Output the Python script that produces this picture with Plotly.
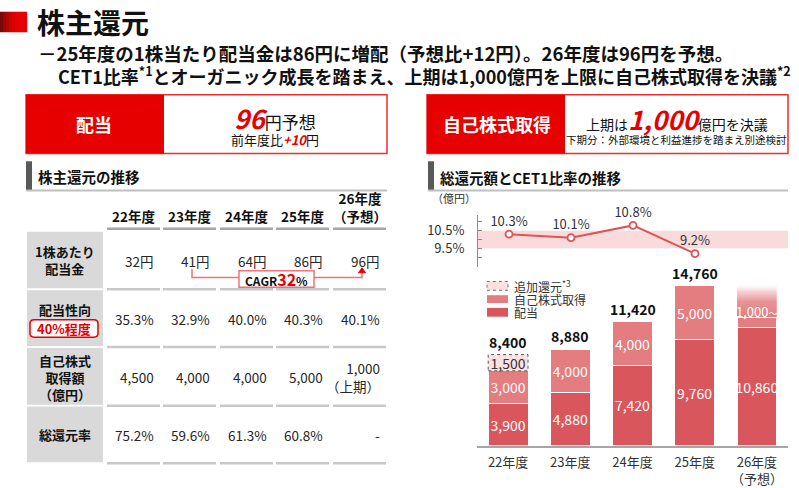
import plotly.graph_objects as go

W, H = 799, 488
def X(px): return px / W
def Y(py): return 1 - py / H

FONT = "Noto Sans CJK JP, Noto Sans, sans-serif"
RED = "#e60000"
C_DIV = "#d9575c"
C_BUY = "#e37d80"
C_LINE = "#e05358"
TXT = "#262626"

# ---------------- data ----------------
years = ["22年度", "23年度", "24年度", "25年度", "26年度<br>（予想）"]
dividend = [3900, 4880, 7420, 9760, 10860]
buyback = [3000, 4000, 4000, 5000, 1000]
additional = [1500, 0, 0, 0, 0]
cet1_x = [0, 1, 2, 3]
cet1 = [10.3, 10.1, 10.8, 9.2]
cet1_band = [9.5, 10.5]
cet1_ticks = [9.5, 10.5]
cet1_ticktext = ["9.5%", "10.5%"]
cet1_minor = [9.0, 10.0, 11.0]

tbl_headers = ["22年度", "23年度", "24年度", "25年度", "26年度<br>（予想）"]
tbl_row_labels = ["1株あたり<br>配当金", "配当性向", "自己株式<br>取得額<br>（億円）", "総還元率"]
tbl_dps = ["32円", "41円", "64円", "86円", "96円"]
tbl_payout = ["35.3%", "32.9%", "40.0%", "40.3%", "40.1%"]
tbl_buyback = ["4,500", "4,000", "4,000", "5,000", "1,000<br>（上期）"]
tbl_total_ratio = ["75.2%", "59.6%", "61.3%", "60.8%", "-"]
cagr_value = "32"
payout_target = "40%程度"
buyback_26_suffix = "～"

# ---------------- layout constants ----------------
BAR_W = 0.64
FADE_TOP = 15000
xs = list(range(len(years)))
i26 = len(years) - 1

fig = go.Figure()

# bars
fig.add_bar(x=xs, y=dividend, width=BAR_W, marker=dict(color=C_DIV, line=dict(color="white", width=1)),
            text=[f"{v:,}" for v in dividend], textposition="inside", insidetextanchor="middle", textangle=0,
            textfont=dict(color="white", size=14, family=FONT), constraintext="none",
            xaxis="x", yaxis="y", showlegend=False, hoverinfo="skip")
fig.add_bar(x=xs, y=buyback, width=BAR_W, marker=dict(color=C_BUY, line=dict(color="white", width=1)),
            text=[f"{v:,}" for v in buyback],
            textposition=["inside"] * (len(xs) - 1) + ["none"], insidetextanchor="middle", textangle=0,
            textfont=dict(color="white", size=14, family=FONT), constraintext="none",
            xaxis="x", yaxis="y", showlegend=False, hoverinfo="skip")
add_x = [i for i, v in enumerate(additional) if v]
add_y = [v for v in additional if v]
fig.add_bar(x=add_x, y=add_y, base=[dividend[i] + buyback[i] for i in add_x], width=BAR_W,
            marker=dict(color="#fbe1e1", line=dict(width=0),
                        pattern=dict(shape="x", fgcolor="#f2a9ab", bgcolor="#fde9e9", size=4, solidity=0.3)),
            text=[f"{v:,}" for v in add_y], textposition="inside", insidetextanchor="middle", textangle=0,
            textfont=dict(color="#333333", size=14, family=FONT), constraintext="none",
            xaxis="x", yaxis="y", showlegend=False, hoverinfo="skip")

# fade above the 26 buyback segment
f0 = dividend[i26] + buyback[i26]
fx0, fx1 = i26 - BAR_W / 2, i26 + BAR_W / 2
fig.add_scatter(x=[fx0, fx1, fx1, fx0, fx0], y=[f0, f0, FADE_TOP, FADE_TOP, f0], mode="lines",
                line=dict(width=0), fill="toself",
                fillgradient=dict(type="vertical",
                                  colorscale=[[0, "rgba(227,125,128,1)"], [0.45, "rgba(229,135,138,0.9)"],
                                              [0.75, "rgba(238,170,172,0.55)"], [1, "rgba(255,255,255,0)"]]),
                xaxis="x", yaxis="y", showlegend=False, hoverinfo="skip")

# CET1 line
fig.add_scatter(x=cet1_x, y=cet1, mode="lines+markers+text",
                line=dict(color=C_LINE, width=2),
                marker=dict(symbol="circle", size=7, color="white", line=dict(color=C_LINE, width=1.8)),
                text=[f"{v:.1f}%" for v in cet1], textposition="top center",
                textfont=dict(size=13, color="#333333", family=FONT), cliponaxis=False,
                xaxis="x2", yaxis="y2", showlegend=False, hoverinfo="skip")

shapes = []
ann = []

def rect(x0, y0, x1, y1, fill=None, line_color=None, lw=0, dash=None, layer="below"):
    d = dict(type="rect", xref="paper", yref="paper", x0=X(x0), x1=X(x1), y0=Y(y1), y1=Y(y0),
             fillcolor=fill if fill else "rgba(0,0,0,0)", layer=layer,
             line=dict(color=line_color if line_color else "rgba(0,0,0,0)", width=lw))
    if dash:
        d["line"]["dash"] = dash
    shapes.append(d)

def hline(x0, x1, y, color, w):
    shapes.append(dict(type="line", xref="paper", yref="paper", x0=X(x0), x1=X(x1), y0=Y(y), y1=Y(y),
                       line=dict(color=color, width=w)))

def text(x, y, s, size=13, color=TXT, xanchor="center", yanchor="middle", align="center", bold=False):
    if bold:
        s = f"<b>{s}</b>"
    ann.append(dict(xref="paper", yref="paper", x=X(x), y=Y(y), text=s, showarrow=False,
                    xanchor=xanchor, yanchor=yanchor, align=align, borderpad=0,
                    font=dict(size=size, color=color, family=FONT)))

# ---------------- title ----------------
grad = ["#7a0a0a", "#980808", "#b40505", "#cc0303", "#dc0101", "#e40000", "#e60000", "#e60000", "#e60000"]
for k, c in enumerate(grad):
    rect(k * 3, 12, k * 3 + 3.2, 33, fill=c)
text(36, 23, "株主還元", size=28, color="#111111", xanchor="left", bold=True)
text(37, 54, "－25年度の1株当たり配当金は86円に増配（予想比+12円）。26年度は96円を予想。",
     size=18.5, color="#111111", xanchor="left", bold=True)
text(57, 77, "CET1比率<sup>*1</sup>とオーガニック成長を踏まえ、上期は1,000億円を上限に自己株式取得を決議<sup>*2</sup>",
     size=18, color="#111111", xanchor="left", bold=True)

# ---------------- highlight boxes ----------------
rect(26, 97, 387, 157, fill="white", line_color="#e83030", lw=1.5)
rect(26, 97, 164, 157, fill=RED)
text(94, 127, "配当", size=18, color="white", bold=True)
text(275, 120, f"<span style='font-size:26px;color:{RED}'><b><i>96</i></b></span>円予想", size=17, color="#111111")
text(275, 143, f"前年度比<span style='color:{RED}'><b><i>+10</i></b></span>円", size=13, color="#111111")

rect(427, 97, 788, 157, fill="white", line_color="#e83030", lw=1.5)
rect(427, 97, 565, 157, fill=RED)
text(497, 127, "自己株式取得", size=18, color="white", bold=True)
text(677, 121, f"上期は<span style='font-size:26px;color:{RED}'><b><i>1,000</i></b></span>億円を決議", size=14, color="#111111")
text(676, 143, "下期分：外部環境と利益進捗を踏まえ別途検討", size=10.5, color="#111111")

# ---------------- section headers ----------------
rect(26, 165, 32, 195, fill="#595959")
hline(26, 387, 195, "#bfbfbf", 2)
text(37, 181, "株主還元の推移", size=14.5, color="#111111", xanchor="left", bold=True)

rect(428, 165, 434, 195, fill="#595959")
hline(428, 788, 195, "#bfbfbf", 2)
text(439, 182, "総還元額とCET1比率の推移", size=14.5, color="#111111", xanchor="left", bold=True)

# ---------------- table ----------------
col_left = [107, 163, 220, 276, 333]
col_w = 53
row_top = [237, 297, 356, 416]
row_bot = [295, 354, 414, 473]
row_val_y = [267, 326, 386, 445]

for i, h in enumerate(tbl_headers):
    cx = col_left[i] + col_w / 2
    text(cx, 232, h, size=13.5, color="#111111", yanchor="bottom", bold=True)
    hline(col_left[i], col_left[i] + col_w, 234, "#a6a6a6", 2.5)
    for r in range(4):
        hline(col_left[i], col_left[i] + col_w, row_bot[r] + 1, "#c8c8c8", 2.5)

for r in range(4):
    rect(27, row_top[r], 103, row_bot[r], fill="#d9d9d9")

text(65, 266, tbl_row_labels[0], size=13, color="#111111", bold=True)
text(65, 317, tbl_row_labels[1], size=13, color="#111111", bold=True)
text(65, 386, tbl_row_labels[2], size=13, color="#111111", bold=True)
text(65, 445, tbl_row_labels[3], size=13, color="#111111", bold=True)

# 40% target box (rounded)
bx0, by0, bx1, by1, rr = X(30), Y(327), X(98), Y(345), 4
rx, ry = rr / W, rr / H
shapes.append(dict(type="path", xref="paper", yref="paper", fillcolor="white",
                   line=dict(color=RED, width=1.5),
                   path=(f"M {bx0+rx},{by0} L {bx1-rx},{by0} Q {bx1},{by0} {bx1},{by0-ry} "
                         f"L {bx1},{by1+ry} Q {bx1},{by1} {bx1-rx},{by1} L {bx0+rx},{by1} "
                         f"Q {bx0},{by1} {bx0},{by1+ry} L {bx0},{by0-ry} Q {bx0},{by0} {bx0+rx},{by0} Z")))
text(64, 336, payout_target, size=13, color=RED, bold=True)

for i in range(5):
    rx_ = col_left[i] + col_w - 5
    text(rx_, row_val_y[0], tbl_dps[i], size=13.5, color="#262626", xanchor="right")
    text(rx_, row_val_y[1], tbl_payout[i], size=13.5, color="#262626", xanchor="right")
    text(rx_, row_val_y[2], tbl_buyback[i], size=13.5, color="#262626", xanchor="right", align="right")
    text(rx_, row_val_y[3], tbl_total_ratio[i], size=13.5, color="#262626", xanchor="right")

# CAGR connector
CC = "#f07378"
shapes.append(dict(type="path", xref="paper", yref="paper", line=dict(color=CC, width=1.5),
                   path=f"M {X(192)},{Y(275)} L {X(192)},{Y(284)} L {X(362)},{Y(284)} L {X(362)},{Y(279)}"))
shapes.append(dict(type="path", xref="paper", yref="paper", fillcolor=RED, line=dict(color=RED, width=1),
                   path=f"M {X(358.5)},{Y(279)} L {X(365.5)},{Y(279)} L {X(362)},{Y(274)} Z"))
rect(239, 277, 314, 294, fill="white", line_color=CC, lw=1.5, layer="above")
ann.append(dict(xref="paper", yref="paper", x=X(276), y=Y(285.5), showarrow=False, borderpad=0,
                text=f"<b>CAGR<span style='color:{RED};font-size:16px'>{cagr_value}</span>%</b>",
                font=dict(size=12, color="#111111", family=FONT)))

# ---------------- chart extras ----------------
text(431, 203, "（億円）", size=11, color="#333333", xanchor="left")

# band
shapes.append(dict(type="rect", xref="x2 domain", yref="y2", x0=0, x1=1, y0=cet1_band[0], y1=cet1_band[1],
                   fillcolor="#fadbdc", line=dict(width=0), layer="below"))

# dashed border for additional return
for i in add_x:
    a0 = dividend[i] + buyback[i]
    shapes.append(dict(type="rect", xref="x", yref="y", x0=i - BAR_W / 2, x1=i + BAR_W / 2,
                       y0=a0, y1=a0 + additional[i], line=dict(color="#555555", width=1, dash="dot"),
                       fillcolor="rgba(0,0,0,0)", layer="above"))

# totals
for i in range(len(years) - 1):
    tot = dividend[i] + buyback[i] + additional[i]
    ann.append(dict(xref="x", yref="y", x=i, y=tot, yshift=13, text=f"<b>{tot:,}</b>", showarrow=False,
                    font=dict(size=14, color="#111111", family=FONT)))

# 26 buyback label
ann.append(dict(xref="x", yref="y", x=i26, y=f0 + 550, borderpad=0,
                text=f"{buyback[i26]:,}<span style='font-size:9px'>{buyback_26_suffix}</span>", showarrow=False,
                font=dict(size=13, color="white", family=FONT)))

# legend (manual)
rect(487, 288, 508, 297, fill="#fbe1e1", line_color="#777777", lw=1, dash="dot")
rect(487, 302, 508, 310, fill=C_BUY)
rect(487, 315, 508, 324, fill=C_DIV)
text(513, 292.5, "追加還元<sup>*3</sup>", size=12, color="#333333", xanchor="left")
text(513, 306, "自己株式取得", size=12, color="#333333", xanchor="left")
text(513, 319.5, "配当", size=12, color="#333333", xanchor="left")

fig.update_layout(
    width=W, height=H, margin=dict(l=0, r=0, t=0, b=0),
    paper_bgcolor="white", plot_bgcolor="rgba(0,0,0,0)",
    barmode="stack", bargap=0.36,
    font=dict(family=FONT, color=TXT),
    shapes=shapes, annotations=ann,
    xaxis=dict(domain=[X(477), X(788)], range=[-0.5, 4.5], tickvals=xs, ticktext=years,
               showline=True, linecolor="#a6a6a6", linewidth=1.5, ticks="", showgrid=False,
               zeroline=False, tickfont=dict(size=13, color="#333333"), anchor="y", fixedrange=True,
               ticklabelstandoff=4),
    yaxis=dict(domain=[Y(456), Y(278.4)], range=[0, 16000], visible=False, fixedrange=True),
    xaxis2=dict(domain=[X(478), X(788)], range=[-0.5, 4.5], visible=False, anchor="y2", fixedrange=True),
    yaxis2=dict(domain=[Y(273), Y(220)], range=[8.444, 11.389], anchor="x2", showline=True,
                linecolor="#8c8c8c", linewidth=1, ticks="inside", ticklen=4, tickcolor="#8c8c8c",
                tickvals=cet1_ticks, ticktext=cet1_ticktext, showgrid=False, zeroline=False,
                minor=dict(tickvals=cet1_minor, ticks="inside", ticklen=4, tickcolor="#8c8c8c"),
                ticklabelstandoff=10, tickfont=dict(size=13, color="#333333"), fixedrange=True),
)

fig.write_html("out.html", config={"displayModeBar": False},
               post_script="document.body.style.margin='0';document.body.style.overflow='hidden';")
